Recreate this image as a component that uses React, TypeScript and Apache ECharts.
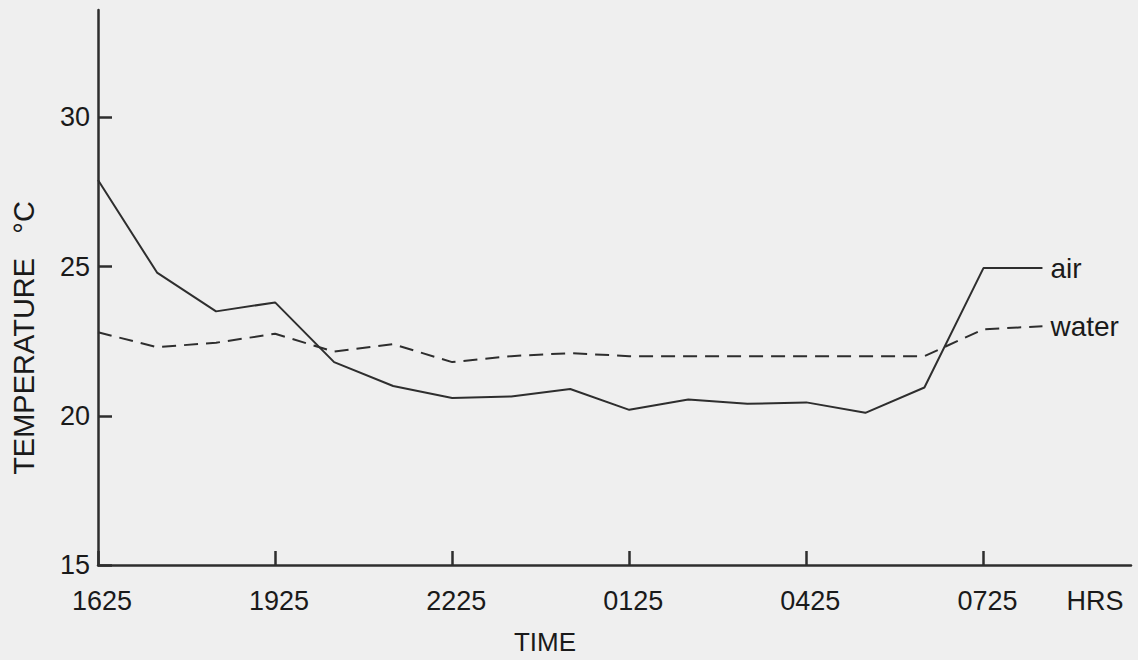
import React, { useEffect, useRef } from "react";
import * as echarts from "echarts";

const hourOffsets = [0, 1, 2, 3, 4, 5, 6, 7, 8, 9, 10, 11, 12, 13, 14, 15, 16];
const airTemps = [27.9, 24.8, 23.5, 23.8, 21.8, 21.0, 20.6, 20.65, 20.9, 20.2, 20.55, 20.4, 20.45, 20.1, 20.95, 24.95, 24.95];
const waterTemps = [22.8, 22.3, 22.45, 22.75, 22.15, 22.4, 21.8, 22.0, 22.1, 22.0, 22.0, 22.0, 22.0, 22.0, 22.0, 22.9, 23.0];
const xTickValues = [0, 3, 6, 9, 12, 15];
const xTickLabels = ["1625", "1925", "2225", "0125", "0425", "0725"];
const yTickValues = [15, 20, 25, 30];

const INK = "#2e2e2e";
const FONT = "Liberation Sans";

export default function App() {
  const ref = useRef<HTMLDivElement>(null);
  useEffect(() => {
    if (!ref.current) return;
    const chart = echarts.init(ref.current, null, { renderer: "svg" });
    const airData = hourOffsets.map((h, i) => [h, airTemps[i]]);
    const waterData = hourOffsets.map((h, i) => [h, waterTemps[i]]);
    chart.setOption({
      animation: false,
      backgroundColor: "#efefef",
      grid: { left: 98, right: 7, top: 10, bottom: 95, outerBoundsMode: "none" },
      xAxis: {
        type: "value",
        min: 0,
        max: 17.5,
        splitLine: { show: false },
        axisLine: { show: true, onZero: false, lineStyle: { color: INK, width: 2.5 } },
        axisTick: {
          show: true,
          inside: true,
          length: 14,
          customValues: xTickValues,
          lineStyle: { color: INK, width: 2.5 },
        },
        axisLabel: {
          customValues: xTickValues,
          margin: 22,
          fontFamily: FONT,
          fontSize: 27,
          color: "#1a1a1a",
          padding: [0, 0, 0, 8],
          formatter: (v: number) => {
            const i = xTickValues.indexOf(v);
            return i >= 0 ? xTickLabels[i] : "";
          },
        },
      },
      yAxis: {
        type: "value",
        min: 15,
        max: 33.6,
        splitLine: { show: false },
        axisLine: { show: true, lineStyle: { color: INK, width: 2.5 } },
        axisTick: {
          show: true,
          inside: true,
          length: 14,
          customValues: yTickValues,
          lineStyle: { color: INK, width: 2.5 },
        },
        axisLabel: {
          customValues: yTickValues,
          margin: 8,
          fontFamily: FONT,
          fontSize: 27,
          color: "#1a1a1a",
          padding: [12, 0, 0, 0],
          formatter: (v: number) => String(v),
        },
      },
      graphic: [
        {
          type: "text",
          x: 24,
          y: 338,
          rotation: Math.PI / 2,
          style: {
            text: "TEMPERATURE   °C",
            fontFamily: FONT,
            fontSize: 29,
            fill: "#1a1a1a",
            align: "center",
            verticalAlign: "middle",
          },
        },
        {
          type: "text",
          x: 545,
          y: 642,
          style: {
            text: "TIME",
            fontFamily: FONT,
            fontSize: 26,
            fill: "#1a1a1a",
            align: "center",
            verticalAlign: "middle",
          },
        },
        {
          type: "text",
          x: 1095,
          y: 601,
          style: {
            text: "HRS",
            fontFamily: FONT,
            fontSize: 27,
            fill: "#1a1a1a",
            align: "center",
            verticalAlign: "middle",
          },
        },
      ],
      series: [
        {
          name: "air",
          type: "line",
          data: airData,
          showSymbol: false,
          lineStyle: { color: INK, width: 2, type: "solid" },
          endLabel: {
            show: true,
            formatter: "{a}",
            distance: 8,
            fontFamily: FONT,
            fontSize: 28,
            color: "#1a1a1a",
          },
        },
        {
          name: "water",
          type: "line",
          data: waterData,
          showSymbol: false,
          lineStyle: { color: INK, width: 2, type: [14, 8] },
          endLabel: {
            show: true,
            formatter: "{a}",
            distance: 8,
            fontFamily: FONT,
            fontSize: 28,
            color: "#1a1a1a",
          },
        },
      ],
    });
    return () => chart.dispose();
  }, []);
  return (
    <div
      ref={ref}
      style={{ position: "fixed", left: 0, top: 0, width: 1138, height: 660 }}
    />
  );
}
